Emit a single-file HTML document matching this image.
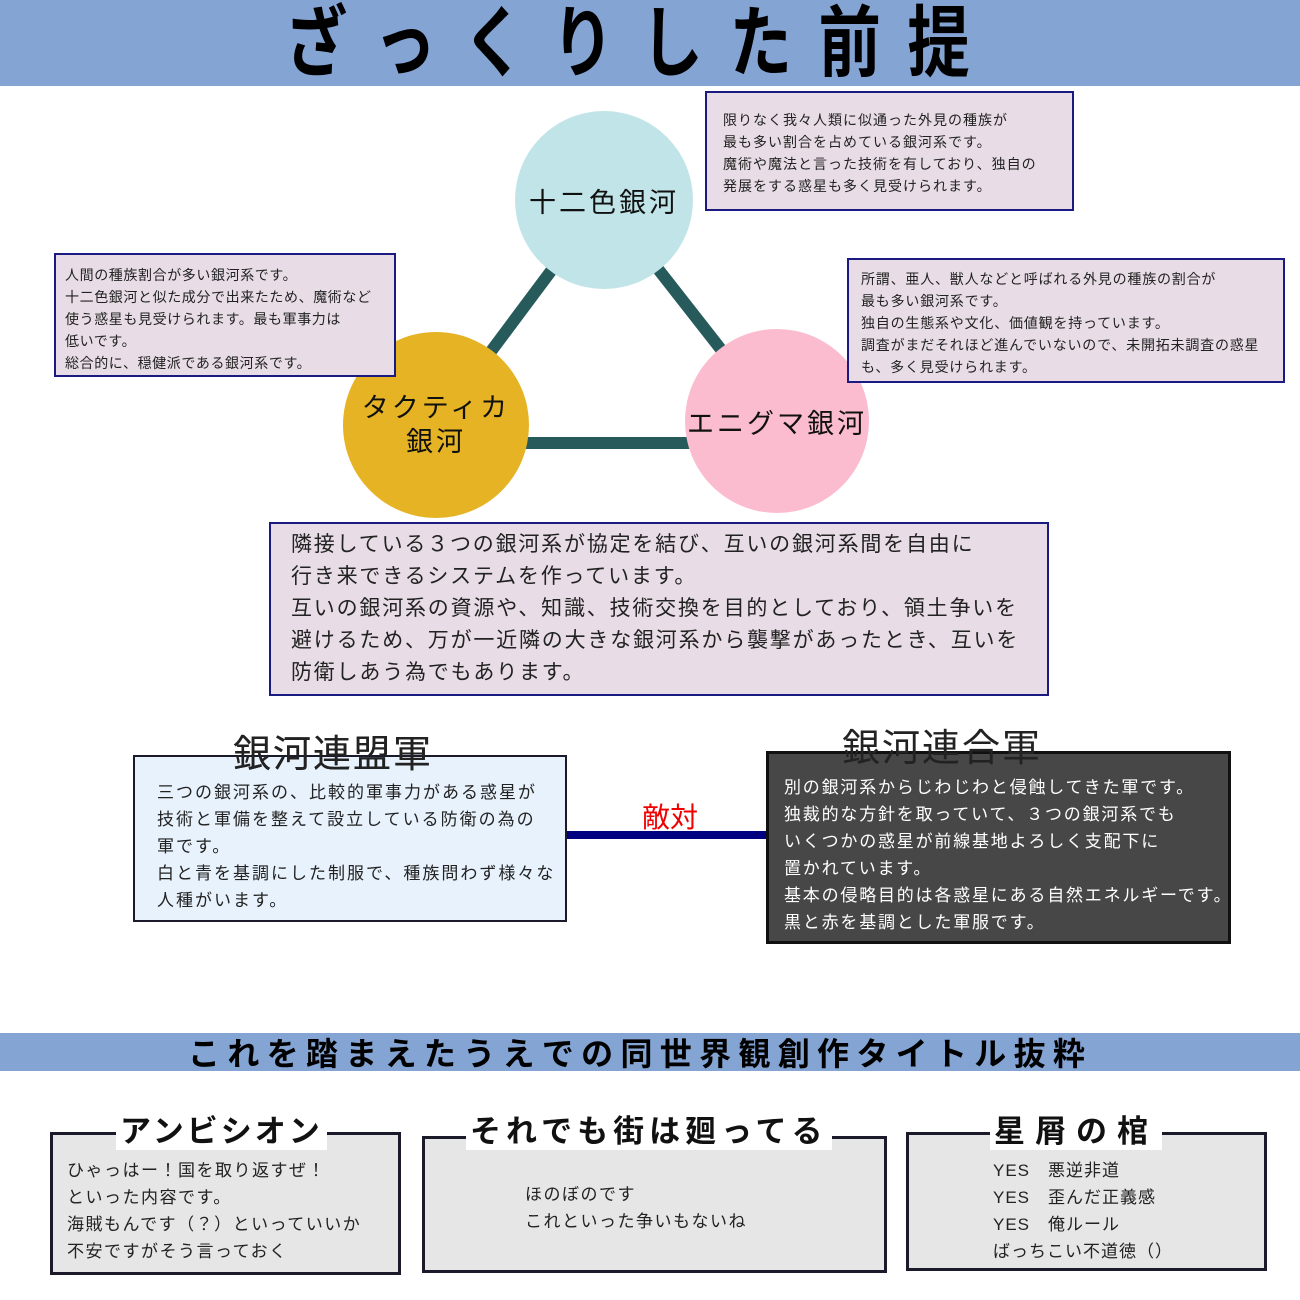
<!DOCTYPE html>
<html><head><meta charset="utf-8"><style>
body{margin:0;width:1300px;height:1300px;background:#fff;position:relative;overflow:hidden;font-family:"Liberation Sans","Noto Sans CJK JP",sans-serif;color:#222}
.a{position:absolute}
.band{position:absolute;left:0;width:1300px;background:#84a4d4}
.ttl{position:absolute;display:flex;justify-content:space-between;font-weight:bold;color:#000}
.box{position:absolute;box-sizing:border-box;background:#e8dde6;border:2px solid #1a1a80;font-size:14px;line-height:22px;padding:6px 8px 0 8px;letter-spacing:1px;white-space:nowrap}
.circ{position:absolute;border-radius:50%;display:flex;align-items:center;justify-content:center;text-align:center;font-size:27px;letter-spacing:3px;color:#111}
.bb{position:absolute;box-sizing:border-box;background:#e6e6e6;border:3px solid #1a1a2a;font-size:17px;line-height:27px;letter-spacing:1.5px;white-space:nowrap}
.bt{position:absolute;background:#fff;font-weight:bold;font-size:31px;color:#111;padding:0 4px;line-height:36px;white-space:nowrap}
</style></head><body>
<div class="band" style="top:0;height:86px"></div>
<div class="ttl" style="left:285px;top:2px;font-size:78px;line-height:82px;transform:scaleX(0.8);transform-origin:left top;width:856px"><span>ざ</span><span>っ</span><span>く</span><span>り</span><span>し</span><span>た</span><span>前</span><span>提</span></div>

<svg class="a" style="left:0;top:0" width="1300" height="600">
<line x1="604" y1="200" x2="436" y2="425" stroke="#275b5b" stroke-width="12"/>
<line x1="604" y1="200" x2="777" y2="421" stroke="#275b5b" stroke-width="12"/>
<line x1="436" y1="443" x2="777" y2="443" stroke="#275b5b" stroke-width="12"/>
</svg>
<div class="circ" style="left:515px;top:111px;width:178px;height:178px;background:#c0e4e8">十二色銀河</div>
<div class="circ" style="left:343px;top:332px;width:186px;height:186px;background:#e5b323;line-height:34px">タクティカ<br>銀河</div>
<div class="circ" style="left:685px;top:329px;width:184px;height:184px;background:#fcbcd0">エニグマ銀河</div>

<div class="box" style="left:705px;top:91px;width:369px;height:120px;padding:16px 0 0 16px">限りなく我々人類に似通った外見の種族が<br>最も多い割合を占めている銀河系です。<br>魔術や魔法と言った技術を有しており、独自の<br>発展をする惑星も多く見受けられます。</div>
<div class="box" style="left:54px;top:253px;width:342px;height:124px;padding:9px 0 0 9px;letter-spacing:0.6px">人間の種族割合が多い銀河系です。<br>十二色銀河と似た成分で出来たため、魔術など<br>使う惑星も見受けられます。最も軍事力は<br>低いです。<br>総合的に、穏健派である銀河系です。</div>
<div class="box" style="left:847px;top:258px;width:438px;height:125px;padding:8px 0 0 12px;letter-spacing:0.8px">所謂、亜人、獣人などと呼ばれる外見の種族の割合が<br>最も多い銀河系です。<br>独自の生態系や文化、価値観を持っています。<br>調査がまだそれほど進んでいないので、未開拓未調査の惑星<br>も、多く見受けられます。</div>
<div class="box" style="left:269px;top:522px;width:780px;height:174px;font-size:21px;line-height:32px;padding:5px 0 0 20px;letter-spacing:1.8px">隣接している３つの銀河系が協定を結び、互いの銀河系間を自由に<br>行き来できるシステムを作っています。<br>互いの銀河系の資源や、知識、技術交換を目的としており、領土争いを<br>避けるため、万が一近隣の大きな銀河系から襲撃があったとき、互いを<br>防衛しあう為でもあります。</div>

<div class="a" style="left:566px;top:831px;width:202px;height:8px;background:#000080"></div>
<div class="a" style="left:642px;top:796px;font-size:28px;color:#f00000">敵対</div>
<div class="bb" style="left:133px;top:755px;width:434px;height:167px;background:#e8f2fc;border-width:2px;padding:22px 0 0 22px;letter-spacing:2px">三つの銀河系の、比較的軍事力がある惑星が<br>技術と軍備を整えて設立している防衛の為の<br>軍です。<br>白と青を基調にした制服で、種族問わず様々な<br>人種がいます。</div>
<div class="a" style="left:230px;top:734px;font-size:38px;line-height:42px;letter-spacing:2px;background:#fff;padding:0 3px;height:20px;overflow:visible"><span style="position:relative">銀河連盟軍</span></div>
<div class="a" style="left:230px;top:734px;font-size:38px;line-height:42px;letter-spacing:2px;padding:0 3px;color:#222">銀河連盟軍</div>
<div class="bb" style="left:766px;top:751px;width:465px;height:193px;background:#474747;border-color:#111;color:#fff;padding:20px 0 0 15px;letter-spacing:1.8px">別の銀河系からじわじわと侵蝕してきた軍です。<br>独裁的な方針を取っていて、３つの銀河系でも<br>いくつかの惑星が前線基地よろしく支配下に<br>置かれています。<br>基本の侵略目的は各惑星にある自然エネルギーです。<br>黒と赤を基調とした軍服です。</div>
<div class="a" style="left:842px;top:728px;font-size:38px;line-height:42px;color:#222;letter-spacing:2px">銀河連合軍</div>

<div class="band" style="top:1033px;height:38px"></div>
<div class="ttl" style="left:188px;top:1036px;width:897px;font-size:32px;line-height:36px"><span>こ</span><span>れ</span><span>を</span><span>踏</span><span>ま</span><span>え</span><span>た</span><span>う</span><span>え</span><span>で</span><span>の</span><span>同</span><span>世</span><span>界</span><span>観</span><span>創</span><span>作</span><span>タ</span><span>イ</span><span>ト</span><span>ル</span><span>抜</span><span>粋</span></div>

<div class="bb" style="left:50px;top:1132px;width:351px;height:143px;padding:22px 0 0 14px">ひゃっはー！国を取り返すぜ！<br>といった内容です。<br>海賊もんです（？）といっていいか<br>不安ですがそう言っておく</div>
<div class="bt" style="left:116px;top:1114px;letter-spacing:3px">アンビシオン</div>
<div class="bb" style="left:422px;top:1136px;width:465px;height:137px;padding:42px 0 0 100px">ほのぼのです<br>これといった争いもないね</div>
<div class="bt" style="left:466px;top:1114px;letter-spacing:5px">それでも街は廻ってる</div>
<div class="bb" style="left:906px;top:1132px;width:361px;height:139px;padding:22px 0 0 84px;letter-spacing:1px">YES　悪逆非道<br>YES　歪んだ正義感<br>YES　俺ルール<br>ばっちこい不道徳（）</div>
<div class="bt" style="left:990px;top:1114px;letter-spacing:10px">星屑の棺</div>
</body></html>
